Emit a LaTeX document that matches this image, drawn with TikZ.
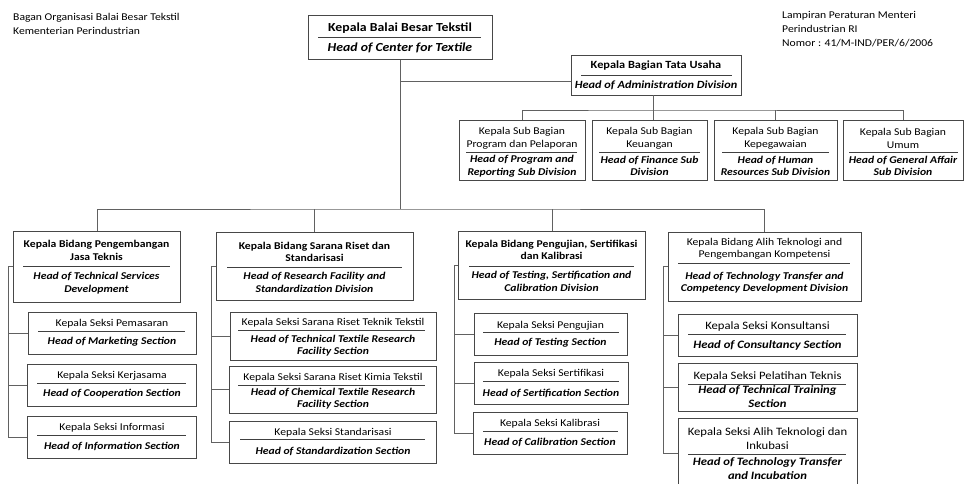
\documentclass[tikz,border=0pt]{standalone}
\usepackage{fontspec}
\setmainfont{Carlito}[FakeStretch=1.12]
\usetikzlibrary{fit}
\tikzset{
  box/.style={draw=black!72, line width=1pt, fill=white, inner sep=0pt, outer sep=0pt,
    preaction={draw=black!30, line width=1pt, transform canvas={shift={(0.9pt,-0.9pt)}}}},
  ln/.style={draw=black!62, line width=1pt},
  sepl/.style={draw=black!75, line width=0.9pt},
  tr/.style={inner sep=0pt, align=center, text=black, font=\fontsize{10.4}{12.5}\selectfont},
  tb/.style={tr, font=\fontsize{10.4}{12.5}\selectfont\bfseries},
  ti/.style={tr, font=\fontsize{10.4}{12.5}\selectfont\bfseries\itshape},
  trl/.style={tr, font=\fontsize{11.3}{14}\selectfont},
  til/.style={tr, font=\fontsize{11.3}{14}\selectfont\bfseries\itshape},
}
\begin{document}
\begin{tikzpicture}[x=1pt,y=-1pt]
\useasboundingbox (0,0) rectangle (979,483);
\fill[white] (0,0) rectangle (979,483);

% header texts
\node[tr, align=left, anchor=west, font=\fontsize{10.4}{14}\selectfont] (hdrL) at (13,23.5) {Bagan Organisasi Balai Besar Tekstil\\Kementerian Perindustrian};
\node[tr, align=left, anchor=west, font=\fontsize{10.4}{14}\selectfont] (hdrR) at (782,29.5) {Lampiran Peraturan Menteri\\Perindustrian RI\\Nomor : 41/M-IND/PER/6/2006};

% coordinates for connectors
\coordinate (ab) at (400,81);
\coordinate (mh) at (400,209);
\coordinate (hub) at (653,110);

% connectors (drawn first, boxes on top)
\draw[ln] (ab) -- (571,81);
\draw[ln] (400,59) -- (mh);
\draw[ln] (97,231) |- (mh) -| (764,232);
\draw[ln] (314,232) -- (314,209);
\draw[ln] (552,231) -- (552,209);

% Top box
\node[box, fit={(308,15) (492,59)}] (top) {};
\node[tb, font=\fontsize{12.3}{14}\selectfont\bfseries] (top-k) at (400,28) {Kepala Balai Besar Tekstil};
\node[ti, font=\fontsize{12.3}{14}\selectfont\bfseries\itshape] (top-h) at (400,48) {Head of Center for Textile};
\draw[sepl] (318,37) -- (481,37);

% Admin box
\node[box, fit={(571,55) (741,95)}] (admin) {};
\node[tb, font=\fontsize{11}{13}\selectfont\bfseries] (admin-k) at (656,66) {Kepala Bagian Tata Usaha};
\node[ti, font=\fontsize{11}{13}\selectfont\bfseries\itshape] (admin-h) at (656,85.5) {Head of Administration Division};
\draw[sepl] (581,75) -- (732,75);

% sub division boxes
\node[box, fit={(459,120) (585,180)}] (s1) {};
\node[box, fit={(592,120) (707,180)}] (s2) {};
\node[box, fit={(714,120) (837,180)}] (s3) {};
\node[box, fit={(843,120) (963,180)}] (s4) {};
\draw[ln] (admin.south -| hub) -- (s2.north -| hub);
\draw[ln] (s1.north) |- (hub) -| (s4.north);
\draw[ln] (s3.north) -- (s3.north |- hub);

\node[tr] (s1-k) at (522,138.5) {Kepala Sub Bagian\\Program dan Pelaporan};
\node[ti] (s1-h) at (522,166) {Head of Program and\\Reporting Sub Division};
\draw[sepl] (466,152) -- (577,152);
\node[tr] (s2-k) at (649.5,138.5) {Kepala Sub Bagian\\Keuangan};
\node[ti] (s2-h) at (649.5,166) {Head of Finance Sub\\Division};
\draw[sepl] (599,152) -- (700,152);
\node[tr] (s3-k) at (775.5,138.5) {Kepala Sub Bagian\\Kepegawaian};
\node[ti] (s3-h) at (775.5,166) {Head of Human\\Resources Sub Division};
\draw[sepl] (722,152) -- (829,152);
\node[tr] (s4-k) at (903,138.5) {Kepala Sub Bagian\\Umum};
\node[ti] (s4-h) at (903,166) {Head of General Affair\\Sub Division};
\draw[sepl] (849,152) -- (958,152);

% Bidang boxes
\node[box, fit={(13,231) (180,302)}] (b1) {};
\node[box, fit={(216,232) (413,300)}] (b2) {};
\node[box, fit={(458,231) (645,299)}] (b3) {};
\node[box, fit={(668,232) (861,301)}] (b4) {};

\node[tb] (b1-k) at (96.5,250.5) {Kepala Bidang Pengembangan\\Jasa Teknis};
\node[ti] (b1-h) at (96.5,283) {Head of Technical Services\\Development};
\draw[sepl] (23,266) -- (170,266);
\node[tb] (b2-k) at (314.5,252) {Kepala Bidang Sarana Riset dan\\Standarisasi};
\node[ti] (b2-h) at (314.5,282.5) {Head of Research Facility and\\Standardization Division};
\draw[sepl] (227,267) -- (402,267);
\node[tb] (b3-k) at (551.5,250) {Kepala Bidang Pengujian, Sertifikasi\\dan Kalibrasi};
\node[ti] (b3-h) at (551.5,281.5) {Head of Testing, Sertification and\\Calibration Division};
\draw[sepl] (469,266) -- (634,266);
\node[tr] (b4-k) at (764.5,249) {Kepala Bidang Alih Teknologi and\\Pengembangan Kompetensi};
\node[ti] (b4-h) at (764.5,282.5) {Head of Technology Transfer and\\Competency Development Division};
\draw[sepl] (678,263) -- (850,263);

% section boxes
\node[box, fit={(28,312) (196,354)}] (c1a) {};
\node[box, fit={(27,364) (196,406)}] (c1b) {};
\node[box, fit={(27,416) (196,458)}] (c1c) {};
\node[box, fit={(230,312) (436,360)}] (c2a) {};
\node[box, fit={(229,366) (436,413)}] (c2b) {};
\node[box, fit={(229,421) (436,463)}] (c2c) {};
\node[box, fit={(474,313) (627,355)}] (c3a) {};
\node[box, fit={(474,362) (628,404)}] (c3b) {};
\node[box, fit={(473,412) (627,454)}] (c3c) {};
\node[box, fit={(678,314) (857,356)}] (c4a) {};
\node[box, fit={(678,363) (857,411)}] (c4b) {};
\node[box, fit={(678,418) (857,488)}] (c4c) {};

% column connectors
\coordinate (v1) at (8,266);
\coordinate (v2) at (211,266);
\coordinate (v3) at (454,265);
\coordinate (v4) at (663,266);
\draw[ln] (b1.west) -- (b1.west -| v1) |- (c1c.west);
\draw[ln] (c1a.west) -- (c1a.west -| v1);
\draw[ln] (c1b.west) -- (c1b.west -| v1);
\draw[ln] (b2.west) -- (b2.west -| v2) |- (c2c.west);
\draw[ln] (c2a.west) -- (c2a.west -| v2);
\draw[ln] (c2b.west) -- (c2b.west -| v2);
\draw[ln] (b3.west) -- (b3.west -| v3) |- (c3c.west);
\draw[ln] (c3a.west) -- (c3a.west -| v3);
\draw[ln] (c3b.west) -- (c3b.west -| v3);
\draw[ln] (b4.west) -- (b4.west -| v4) |- (c4c.west);
\draw[ln] (c4a.west) -- (c4a.west -| v4);
\draw[ln] (c4b.west) -- (c4b.west -| v4);

% column 1 texts
\node[tr] (c1a-k) at (112,324) {Kepala Seksi Pemasaran};
\node[ti] (c1a-h) at (112,342) {Head of Marketing Section};
\draw[sepl] (38,331) -- (185,331);
\node[tr] (c1b-k) at (112,376) {Kepala Seksi Kerjasama};
\node[ti] (c1b-h) at (112,394) {Head of Cooperation Section};
\draw[sepl] (37,383) -- (186,383);
\node[tr] (c1c-k) at (112,428) {Kepala Seksi Informasi};
\node[ti] (c1c-h) at (112,446) {Head of Information Section};
\draw[sepl] (37,435) -- (186,435);

% column 2 texts
\node[tr] (c2a-k) at (333,323) {Kepala Seksi Sarana Riset Teknik Tekstil};
\node[ti] (c2a-h) at (333,345.5) {Head of Technical Textile Research\\Facility Section};
\draw[sepl] (238,330) -- (425,330);
\node[tr] (c2b-k) at (333,378) {Kepala Seksi Sarana Riset Kimia Tekstil};
\node[ti] (c2b-h) at (333,398.5) {Head of Chemical Textile Research\\Facility Section};
\draw[sepl] (238,385) -- (425,385);
\node[tr] (c2c-k) at (333,433) {Kepala Seksi Standarisasi};
\node[ti] (c2c-h) at (333,451) {Head of Standardization Section};
\draw[sepl] (240,439) -- (425,439);

% column 3 texts
\node[tr] (c3a-k) at (550.5,326) {Kepala Seksi Pengujian};
\node[ti] (c3a-h) at (550.5,343) {Head of Testing Section};
\draw[sepl] (483,332) -- (619,332);
\node[tr] (c3b-k) at (551,374) {Kepala Seksi Sertifikasi};
\node[ti] (c3b-h) at (551,393) {Head of Sertification Section};
\draw[sepl] (483,381) -- (619,381);
\node[tr] (c3c-k) at (550,424) {Kepala Seksi Kalibrasi};
\node[ti] (c3c-h) at (550,442) {Head of Calibration Section};
\draw[sepl] (483,431) -- (618,431);

% column 4 texts
\node[trl] (c4a-k) at (767.5,326) {Kepala Seksi Konsultansi};
\node[til] (c4a-h) at (767.5,345) {Head of Consultancy Section};
\draw[sepl] (688,334) -- (846,334);
\node[trl] (c4b-k) at (767.5,376) {Kepala Seksi Pelatihan Teknis};
\node[til] (c4b-h) at (767.5,397) {Head of Technical Training\\Section};
\draw[sepl] (688,384) -- (846,384);
\node[trl] (c4c-k) at (767.5,438.5) {Kepala Seksi Alih Teknologi dan\\Inkubasi};
\node[til] (c4c-h) at (767.5,469) {Head of Technology Transfer\\and Incubation};
\draw[sepl] (688,454) -- (846,454);
\end{tikzpicture}
\end{document}
